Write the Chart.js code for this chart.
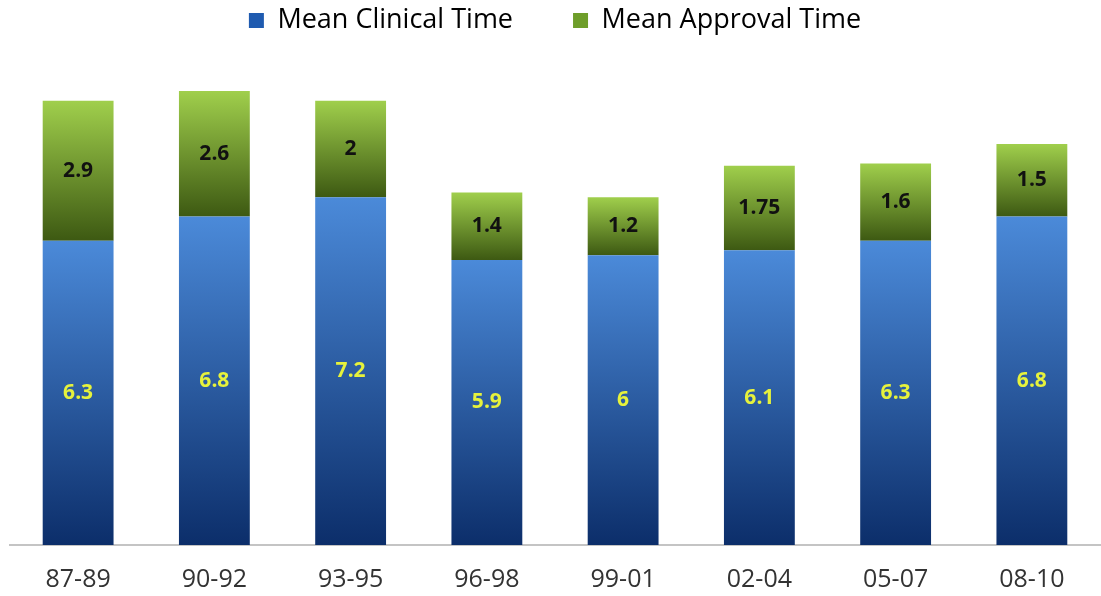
<!DOCTYPE html>
<html>
<head>
<meta charset="utf-8">
<script src="https://cdn.jsdelivr.net/npm/chart.js@4.4.0/dist/chart.umd.min.js"></script>
<style>
  html, body { margin: 0; padding: 0; background: #fff; }
  #wrap { width: 1101px; height: 596px; position: relative; }
</style>
</head>
<body>
<div id="wrap"><canvas id="timeChart"></canvas></div>
<script>
// data
const periods = ['87-89', '90-92', '93-95', '96-98', '99-01', '02-04', '05-07', '08-10'];
const clinicalTime = [6.3, 6.8, 7.2, 5.9, 6, 6.1, 6.3, 6.8];
const approvalTime = [2.9, 2.6, 2, 1.4, 1.2, 1.75, 1.6, 1.5];

// gradient per bar, dark at the bottom, light on top
function barGradient(ctx, light, dark) {
    const chart = ctx.chart;
    const y = chart.scales.y;
    if (!y || !chart.chartArea || ctx.dataIndex === undefined) return light;
    const i = ctx.dataIndex;
    let lo = 0, hi = clinicalTime[i];
    if (ctx.datasetIndex === 1) { lo = clinicalTime[i]; hi = lo + approvalTime[i]; }
    const top = y.getPixelForValue(hi);
    const bottom = y.getPixelForValue(lo);
    if (!isFinite(top) || !isFinite(bottom)) return light;
    const g = chart.ctx.createLinearGradient(0, top, 0, bottom);
    g.addColorStop(0, light);
    g.addColorStop(1, dark);
    return g;
}

// draws the value in the middle of each segment
const segmentLabels = {
    id: 'segmentLabels',
    afterDatasetsDraw(chart) {
        const c = chart.ctx;
        c.save();
        c.font = 'bold 21px "Open Sans", sans-serif';
        c.textAlign = 'center';
        c.textBaseline = 'middle';
        chart.data.datasets.forEach((ds, di) => {
            const meta = chart.getDatasetMeta(di);
            c.fillStyle = di === 0 ? '#e6f23c' : '#111';
            meta.data.forEach((bar, j) => {
                c.fillText(String(ds.data[j]), bar.x, (bar.y + bar.base) / 2);
            });
        });
        c.restore();
    }
};

// tweak the room under the legend
const legendSpace = {
    id: 'legendSpace',
    beforeInit(chart) {
        const fit = chart.legend.fit;
        chart.legend.fit = function () {
            fit.bind(chart.legend)();
            this.height += 18;
        };
    }
};

new Chart(document.getElementById('timeChart'), {
    type: 'bar',
    data: {
        labels: periods,
        datasets: [
            {
                label: 'Mean Clinical Time',
                data: clinicalTime,
                backgroundColor: ctx => barGradient(ctx, '#4b8ad9', '#0c2e6a'),
                borderWidth: 0,
                categoryPercentage: 1,
                barPercentage: 0.52
            },
            {
                label: 'Mean Approval Time',
                data: approvalTime,
                backgroundColor: ctx => barGradient(ctx, '#a0cf4c', '#3d5912'),
                borderWidth: 0,
                categoryPercentage: 1,
                barPercentage: 0.52
            }
        ]
    },
    options: {
        responsive: true,
        maintainAspectRatio: false,
        animation: false,
        layout: { padding: { left: 10, right: 1, top: -53, bottom: -11 } },
        plugins: {
            tooltip: { enabled: false },
            legend: {
                position: 'top',
                labels: {
                    color: '#222',
                    font: { family: '"Open Sans", sans-serif', size: 27 },
                    boxWidth: 15,
                    boxHeight: 15,
                    padding: 60,
                    generateLabels: () => [
                        { text: 'Mean Clinical Time', fillStyle: '#1f5bb0', strokeStyle: '#1f5bb0', lineWidth: 0, datasetIndex: 0 },
                        { text: 'Mean Approval Time', fillStyle: '#6e9e2a', strokeStyle: '#6e9e2a', lineWidth: 0, datasetIndex: 1 }
                    ]
                }
            }
        },
        scales: {
            x: {
                stacked: true,
                grid: { display: false },
                border: { display: true, color: '#c4c4c4', width: 2 },
                ticks: {
                    color: '#333',
                    font: { family: '"Open Sans", sans-serif', size: 25 },
                    padding: 12
                }
            },
            y: {
                stacked: true,
                display: false,
                min: 0,
                max: 10
            }
        }
    },
    plugins: [segmentLabels, legendSpace]
});
</script>
</body>
</html>
